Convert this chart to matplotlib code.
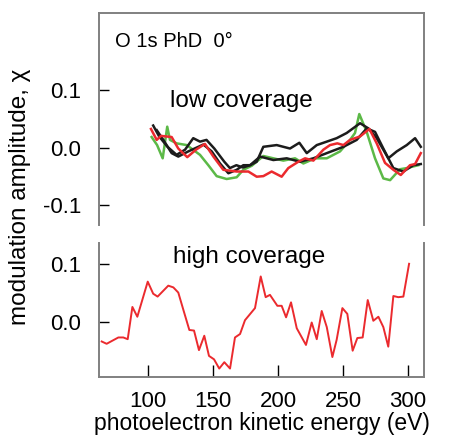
import matplotlib.pyplot as plt

plt.rcParams['font.family'] = ['Liberation Sans', 'DejaVu Sans']

# low coverage curves (top panel)
e_green = [102.8, 107, 111.3, 114.8, 116.9, 122, 129.8, 140, 146.4, 152.8, 160.5, 168.2, 173.3, 179.8,
           188.7, 196.4, 204.1, 213.1, 219.5, 228.5, 237.5, 247.7, 255.4, 259.2, 262.5, 268.2, 274.6,
           281, 286.2, 293.8, 299, 307.9]
v_green = [0.019, 0.005, -0.018, 0.037, 0.014, 0.008, 0.005, -0.012, -0.030, -0.049, -0.054, -0.051,
           -0.038, -0.031, -0.014, -0.018, -0.022, -0.018, -0.027, -0.018, -0.018, -0.006, 0.014, 0.026,
           0.059, 0.028, -0.018, -0.053, -0.056, -0.037, -0.035, -0.030]

e_black1 = [104, 108.6, 115, 122, 128.5, 134.8, 140, 145, 151, 158.7, 163, 168, 173, 178.5, 183.6, 188.7,
            199, 209.2, 216.4, 222.1, 229.8, 237.5, 245.1, 252.8, 263.1, 269.5, 275.9, 284.8, 291.3,
            299, 305.4, 309.8]
v_black1 = [0.039, 0.020, 0.002, -0.012, -0.003, 0.017, 0.011, 0.014, -0.001, -0.024, -0.035, -0.030,
            -0.034, -0.030, -0.024, 0.002, 0.005, -0.001, 0.009, -0.009, 0.005, 0.011, 0.017, 0.026,
            0.043, 0.034, 0.017, -0.018, -0.006, 0.005, 0.017, 0.002]

e_black2 = [106.7, 111.8, 118.2, 123.3, 131, 142.6, 149, 155.4, 161.8, 168.2, 173.3, 178.5, 186.2, 196.4,
            206.7, 216.9, 227.2, 237.5, 250.3, 260.5, 268.2, 274.6, 281, 288.7, 296.4, 304.1, 309.8]
v_black2 = [0.031, 0.014, -0.009, -0.015, -0.006, 0.006, -0.006, -0.027, -0.044, -0.038, -0.030, -0.030,
            -0.015, -0.021, -0.018, -0.024, -0.018, -0.009, 0.002, 0.014, 0.034, 0.028, -0.001, -0.035,
            -0.041, -0.030, -0.028]

e_red = [102.3, 106.7, 110, 118.2, 123.3, 130.2, 136.9, 143.8, 150.3, 157.9, 168.2, 177.2, 183.6, 188.7,
         195.1, 202.8, 207.9, 215.6, 220.8, 227.2, 234.9, 240, 245.6, 250.3, 255.4, 263.1, 270.3, 275.9,
         282.3, 288.7, 294.4, 301.5, 305.4, 309.8]
v_red = [0.033, 0.014, 0.021, 0.019, -0.001, -0.016, -0.003, 0.007, -0.015, -0.038, -0.041, -0.041,
         -0.050, -0.049, -0.041, -0.050, -0.035, -0.024, -0.018, -0.022, -0.003, 0.005, 0.008, 0.005,
         0.014, 0.020, 0.033, 0.008, -0.026, -0.038, -0.047, -0.030, -0.028, -0.009]

# high coverage curve (bottom panel)
e_high = [64.4, 68.2, 77.2, 81, 84.4, 88, 91.8, 99.8, 104, 107.4, 115.6, 119.5, 123.3, 127.2, 131.8, 135.4,
          139.2, 143.3, 146.9, 150.8, 154.8, 158.7, 163.1, 166.9, 170.8, 174.6, 182.3, 186.7, 190.5, 193.8,
          199.5, 202.8, 206.2, 210, 214.4, 221.5, 225.9, 229.8, 233.6, 237.5, 241.8, 245.1, 249.5, 253.3,
          257.4, 261, 265.1, 269, 273.3, 277.2, 281, 284.8, 288.7, 292.5, 296.4, 300.8]
v_high = [-0.034, -0.038, -0.027, -0.027, -0.030, 0.026, 0.009, 0.070, 0.049, 0.044, 0.063, 0.060, 0.051,
          0.021, -0.014, -0.015, -0.049, -0.024, -0.059, -0.065, -0.081, -0.070, -0.081, -0.027, -0.021,
          0.003, 0.024, 0.079, 0.043, 0.047, 0.028, 0.028, 0.008, 0.034, -0.011, -0.040, -0.001, -0.030,
          0.019, -0.009, -0.061, -0.031, 0.024, 0.014, -0.050, -0.028, -0.027, 0.038, 0.002, 0.009,
          -0.009, -0.043, 0.045, 0.043, 0.044, 0.101]

green = '#5cb947'
black = '#1c1c1c'
red = '#eb2a2e'
grey = '#808080'
fs_tick = 16
fs_lab = 16.5
fs_txt = 17.5

fig = plt.figure(figsize=(4.54, 4.46), dpi=100)
ax1 = fig.add_axes([0.218, 0.4955, 0.716, 0.4755])
ax2 = fig.add_axes([0.218, 0.1547, 0.716, 0.3003])

lw = 1.8
ax1.plot(e_green, v_green, color=green, lw=lw)
ax1.plot(e_black1, v_black1, color=black, lw=lw)
ax1.plot(e_black2, v_black2, color=black, lw=lw)
ax1.plot(e_red, v_red, color=red, lw=lw)
ax2.plot(e_high, v_high, color=red, lw=1.4)

for ax in (ax1, ax2):
    ax.set_xlim(62.3, 312.3)
    for s in ax.spines.values():
        s.set_color(grey)
        s.set_linewidth(1.4)
    ax.tick_params(direction='in', labelsize=fs_tick, colors='black', width=1.0, length=7, pad=13)

ax1.set_ylim(-0.134, 0.2348)
ax1.spines['bottom'].set_visible(False)
ax1.set_xticks([])
ax1.set_yticks([0.1, 0.0, -0.1])
ax1.set_yticklabels(['0.1', '0.0', '-0.1'])
ax1.text(0.049, 0.84, 'O 1s PhD  0°', transform=ax1.transAxes, fontsize=14.5, va='baseline')
ax1.text(0.218, 0.557, 'low coverage', transform=ax1.transAxes, fontsize=fs_txt, va='baseline')

ax2.set_ylim(-0.0957, 0.137)
ax2.spines['top'].set_visible(False)
ax2.set_yticks([0.1, 0.0])
ax2.set_yticklabels(['0.1', '0.0'])
ax2.set_xticks([100, 150, 200, 250, 300])
ax2.tick_params(axis='x', length=9, pad=10)
ax2.text(0.228, 0.85, 'high coverage', transform=ax2.transAxes, fontsize=fs_txt, va='baseline')
ax2.set_xlabel('photoelectron kinetic energy (eV)', fontsize=fs_lab, labelpad=0)

fig.text(0.044, 0.558, 'modulation amplitude, χ', rotation=90, fontsize=fs_txt,
         ha='center', va='center')

fig.savefig('out.png', dpi=100)
